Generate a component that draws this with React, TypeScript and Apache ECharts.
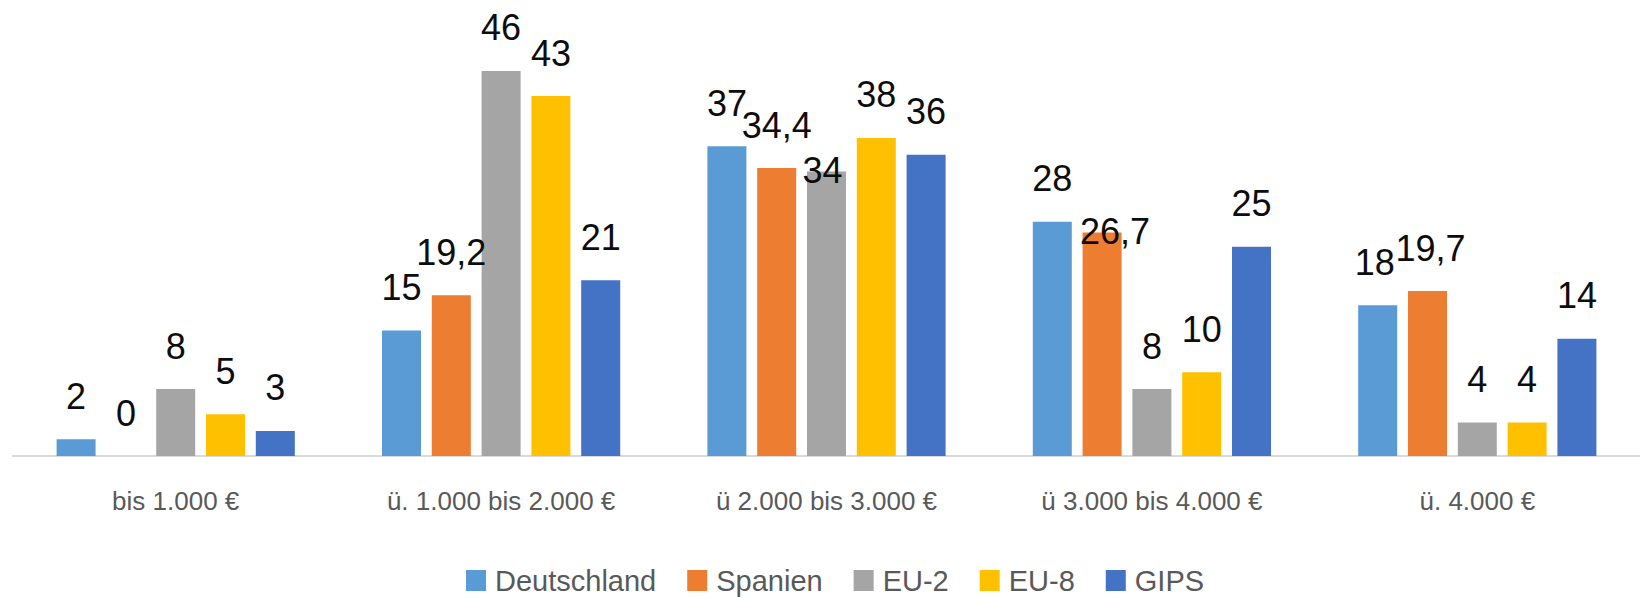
import React, { useEffect, useRef } from "react";
import * as echarts from "echarts";

const categories = [
  "bis 1.000 €",
  "ü. 1.000 bis 2.000 €",
  "ü 2.000 bis 3.000 €",
  "ü 3.000 bis 4.000 €",
  "ü. 4.000 €",
];
const seriesNames = ["Deutschland", "Spanien", "EU-2", "EU-8", "GIPS"];
const deutschland = [2, 15, 37, 28, 18];
const spanien = [0, 19.2, 34.4, 26.7, 19.7];
const eu2 = [8, 46, 34, 8, 4];
const eu8 = [5, 43, 38, 10, 4];
const gips = [3, 21, 36, 25, 14];
const colors = ["#5B9BD5", "#ED7D31", "#A5A5A5", "#FFC000", "#4472C4"];

const FONT = "'Liberation Sans', Arial, sans-serif";

// per-label manual offsets (label positions moved in the original)
const labelOffsets: Record<string, [number, number]> = {
  "2-2": [-4, 42],
  "1-3": [13, 42],
  "0-4": [-3, 0],
  "1-4": [3, 0],
};

export default function App() {
  const ref = useRef<HTMLDivElement>(null);
  useEffect(() => {
    if (!ref.current) return;
    const chart = echarts.init(ref.current, undefined, { renderer: "svg" });
    const all = [deutschland, spanien, eu2, eu8, gips];
    chart.setOption({
      animation: false,
      grid: { left: 13, right: 0, top: 37.5, bottom: 141, containLabel: false },
      legend: {
        data: seriesNames,
        left: 461,
        top: 561,
        icon: "rect",
        itemWidth: 20,
        itemHeight: 21,
        itemGap: 31,
        textStyle: { fontFamily: FONT, fontSize: 29, color: "#595959", padding: [0, 0, 0, 4] },
      },
      xAxis: {
        type: "category",
        data: categories,
        axisLine: { show: true, lineStyle: { color: "#D9D9D9", width: 2 } },
        axisTick: { show: false },
        axisLabel: { fontFamily: FONT, fontSize: 26, color: "#595959", margin: 32, interval: 0 },
      },
      yAxis: {
        type: "value",
        min: 0,
        max: 50,
        show: false,
        splitLine: { show: false },
      },
      series: all.map((vals, si) => ({
        name: seriesNames[si],
        type: "bar",
        barWidth: 39,
        barGap: "27.7%",
        itemStyle: { color: colors[si] },
        data: vals.map((v, ci) => {
          const off = labelOffsets[`${si}-${ci}`];
          return off ? { value: v, label: { offset: off } } : v;
        }),
        label: {
          show: true,
          position: "top",
          distance: 25,
          fontFamily: FONT,
          fontSize: 36,
          color: "#0d0d0d",
          formatter: (p: any) => String(p.value).replace(".", ","),
        },
      })),
    });
    return () => chart.dispose();
  }, []);
  return (
    <div
      ref={ref}
      style={{ position: "absolute", left: 0, top: 0, width: 1640, height: 597 }}
    />
  );
}
